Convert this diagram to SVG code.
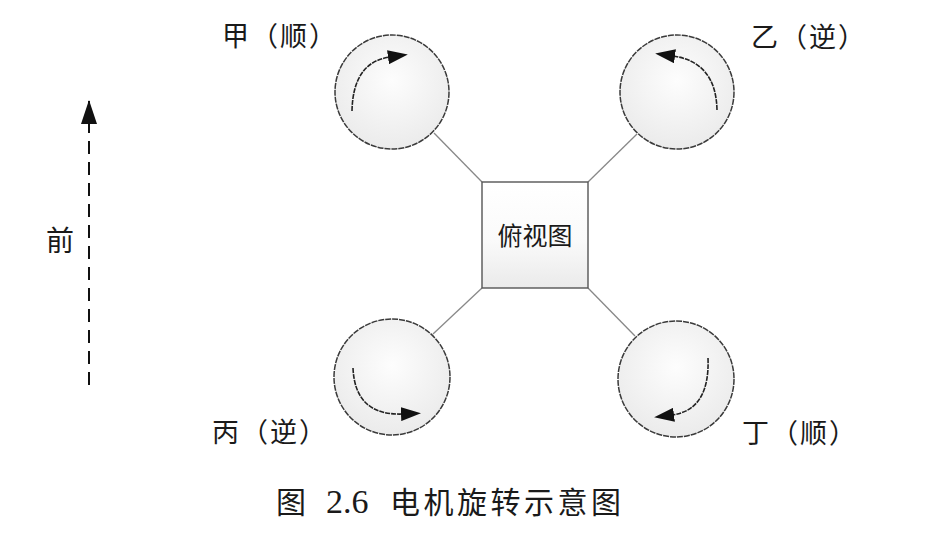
<svg xmlns="http://www.w3.org/2000/svg" width="936" height="533" viewBox="0 0 936 533">
<defs>
<radialGradient id="rotorFill" cx="50%" cy="40%" r="60%">
<stop offset="0" stop-color="#fdfdfd"/>
<stop offset="1" stop-color="#ebebeb"/>
</radialGradient>
<linearGradient id="boxFill" x1="0" y1="0" x2="0" y2="1">
<stop offset="0" stop-color="#ffffff"/>
<stop offset="0.55" stop-color="#fafafa"/>
<stop offset="1" stop-color="#eaeaea"/>
</linearGradient>
<marker id="spinHead" viewBox="0 0 20 14" refX="2" refY="7" markerWidth="20" markerHeight="14" markerUnits="userSpaceOnUse" orient="auto">
<path d="M0,0 L20,7 L0,14 Z" fill="#111"/>
</marker>
<marker id="fwdHead" viewBox="0 0 24 16" refX="23" refY="8" markerWidth="24" markerHeight="16" markerUnits="userSpaceOnUse" orient="auto">
<path d="M0,0 L24,8 L0,16 Z" fill="#111"/>
</marker>
</defs>
<style>
.rotor{fill:url(#rotorFill);stroke:#3a3a3a;stroke-width:1.5;stroke-dasharray:6 1}
.spin{fill:none;stroke:#222;stroke-width:1.6;stroke-dasharray:5 1}
.arm{stroke:#888;stroke-width:1.3}
.lbl{font-family:"Liberation Sans","Noto Sans CJK SC",sans-serif;font-size:27px;fill:#1a1a1a;letter-spacing:2px}
.cap{font-family:"Liberation Serif","Noto Sans CJK SC",serif;font-size:30px;fill:#1a1a1a}
</style>
<rect width="936" height="533" fill="#ffffff"/>

<g id="connectors">
<line class="arm" x1="482" y1="182" x2="434" y2="133"/>
<line class="arm" x1="588" y1="182" x2="637" y2="134"/>
<line class="arm" x1="482" y1="288" x2="433" y2="334"/>
<line class="arm" x1="588" y1="288" x2="635" y2="336"/>
</g>

<g id="body">
<rect x="482" y="182" width="106" height="106" fill="url(#boxFill)" stroke="#555" stroke-width="1.4"/>
<text x="535" y="245" text-anchor="middle" font-family="Liberation Sans,'Noto Sans CJK SC',sans-serif" font-size="25" fill="#1a1a1a">俯视图</text>
</g>

<g id="rotor-jia">
<circle class="rotor" cx="392" cy="92" r="57"/>
<path class="spin" d="M352,111 Q353,62 390,57" marker-end="url(#spinHead)"/>
<text class="lbl" x="222" y="46">甲（顺）</text>
</g>

<g id="rotor-yi">
<circle class="rotor" cx="677" cy="92" r="57"/>
<path class="spin" d="M717,110 Q716,62 673,56" marker-end="url(#spinHead)"/>
<text class="lbl" x="751" y="47">乙（逆）</text>
</g>

<g id="rotor-bing">
<circle class="rotor" cx="392" cy="377" r="58"/>
<path class="spin" d="M353,368 Q355,416 403,414" marker-end="url(#spinHead)"/>
<text class="lbl" x="212" y="442">丙（逆）</text>
</g>

<g id="rotor-ding">
<circle class="rotor" cx="676" cy="379" r="58"/>
<path class="spin" d="M708,358 Q710,410 672,415" marker-end="url(#spinHead)"/>
<text class="lbl" x="742" y="443">丁（顺）</text>
</g>

<g id="forward">
<line x1="89" y1="385" x2="89" y2="101" stroke="#111" stroke-width="2" stroke-dasharray="13 8" marker-end="url(#fwdHead)"/>
<text x="46" y="251" font-family="Liberation Sans,'Noto Sans CJK SC',sans-serif" font-size="28" fill="#1a1a1a">前</text>
</g>

<g id="caption">
<text class="cap" x="276" y="513">图</text>
<text class="cap" x="326" y="513" style="font-size:34px">2.6</text>
<text class="cap" x="390" y="513" letter-spacing="3.5">电机旋转示意图</text>
</g>
</svg>
